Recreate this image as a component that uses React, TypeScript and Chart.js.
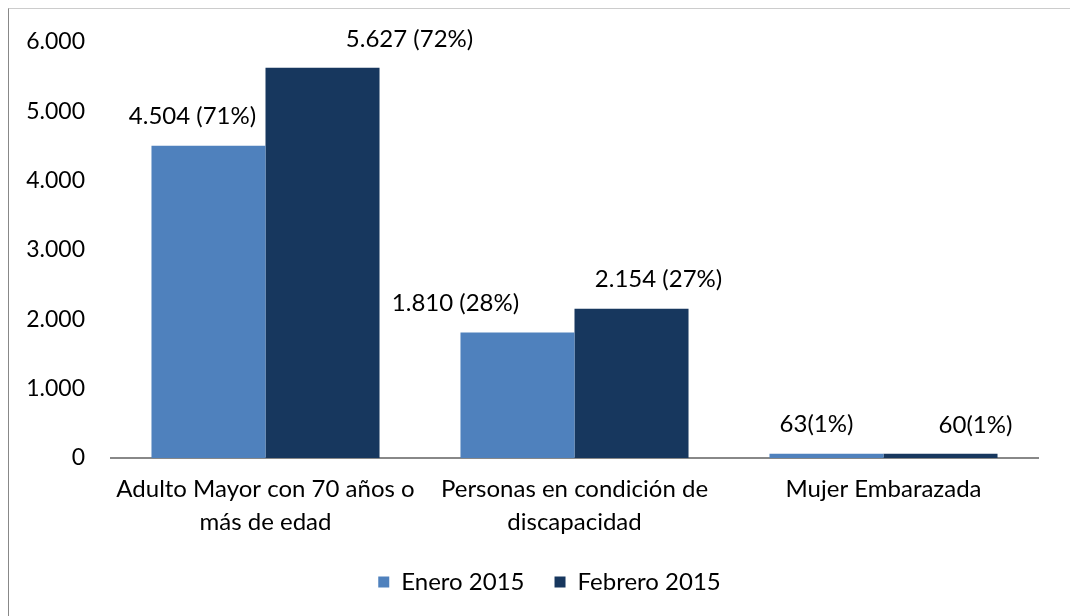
import React, { useEffect, useRef } from "react";
import { Chart, registerables } from "chart.js";

Chart.register(...registerables);

const categories: (string | string[])[] = [
  ["Adulto Mayor con 70 años o", "más de edad"],
  ["Personas en condición de", "discapacidad"],
  "Mujer Embarazada",
];
const seriesNames = ["Enero 2015", "Febrero 2015"];
const enero = [4504, 1810, 63];
const febrero = [5627, 2154, 60];
const eneroPct = [71, 28, 1];
const febreroPct = [72, 27, 1];
const yTicks = [0, 1000, 2000, 3000, 4000, 5000, 6000];

const COLORS = ["#4F81BD", "#17375E"];
const FONT = "Lato";
const FS = 24;
const FS_Y = 23;
// horizontal nudges of the data labels (style only), px
const labelNudge = [
  [-16, -62, -10],
  [87, 27, 35],
];
const LEGEND_SHIFT = 26;

const fmt = (v: number) => v.toLocaleString("de-DE");
const makeLabel = (v: number, p: number) =>
  fmt(v) + (v >= 1000 ? " " : "") + "(" + p + "%)";
const labelsText = [
  enero.map((v, i) => makeLabel(v, eneroPct[i])),
  febrero.map((v, i) => makeLabel(v, febreroPct[i])),
];

const dataLabelPlugin = {
  id: "dataLabelPlugin",
  afterLayout(chart: any) {
    if (chart.legend) {
      chart.legend.left += LEGEND_SHIFT;
      chart.legend.right += LEGEND_SHIFT;
    }
  },
  afterDatasetsDraw(chart: any) {
    const ctx = chart.ctx;
    ctx.save();
    ctx.font = `${FS}px ${FONT}`;
    ctx.fillStyle = "#000";
    ctx.textAlign = "center";
    ctx.textBaseline = "middle";
    chart.data.datasets.forEach((ds: any, di: number) => {
      const meta = chart.getDatasetMeta(di);
      meta.data.forEach((bar: any, i: number) => {
        ctx.fillText(labelsText[di][i], bar.x + labelNudge[di][i], bar.y - 29);
      });
    });
    ctx.restore();
  },
};

export default function App() {
  const ref = useRef<HTMLCanvasElement>(null);
  useEffect(() => {
    const chart = new Chart(ref.current!, {
      type: "bar",
      data: {
        labels: categories,
        datasets: [
          { label: seriesNames[0], data: enero, backgroundColor: COLORS[0] },
          { label: seriesNames[1], data: febrero, backgroundColor: COLORS[1] },
        ],
      },
      options: {
        responsive: false,
        animation: false,
        devicePixelRatio: 1,
        layout: { padding: { top: 33, right: 32, bottom: 12, left: 0 } },
        datasets: { bar: { categoryPercentage: 0.738, barPercentage: 1 } },
        plugins: {
          tooltip: { enabled: false },
          legend: {
            position: "bottom",
            labels: {
              boxWidth: 11,
              boxHeight: 11,
              padding: 30,
              color: "#000",
              font: { family: FONT, size: FS },
            },
          },
        },
        scales: {
          x: {
            grid: { display: false, drawTicks: false },
            border: { display: true, color: "#888", width: 2 },
            ticks: {
              color: "#000",
              padding: 15,
              maxRotation: 0,
              autoSkip: false,
              font: { family: FONT, size: FS, lineHeight: 1.375 },
            },
            afterFit: (s: any) => {
              s.height = 82;
            },
          },
          y: {
            min: 0,
            max: 6000,
            afterBuildTicks: (s: any) => {
              s.ticks = yTicks.map((v) => ({ value: v }));
            },
            grid: { display: false, drawTicks: false },
            border: { display: false },
            ticks: {
              color: "#000",
              padding: 26,
              font: { family: FONT, size: FS_Y },
              callback: (v: any) => fmt(Number(v)),
            },
            afterFit: (s: any) => {
              s.width = 102;
              s.paddingTop = 0;
              s.paddingBottom = 0;
            },
          },
        },
      },
      plugins: [dataLabelPlugin],
    });
    return () => chart.destroy();
  }, []);
  return (
    <div
      style={{
        position: "fixed",
        left: 8,
        top: 8,
        width: 1070,
        height: 620,
        borderLeft: "1px solid #888",
        borderTop: "1px solid #ccc",
        background: "#fff",
      }}
    >
      <canvas ref={ref} width={1061} height={607} style={{ display: "block" }} />
    </div>
  );
}
